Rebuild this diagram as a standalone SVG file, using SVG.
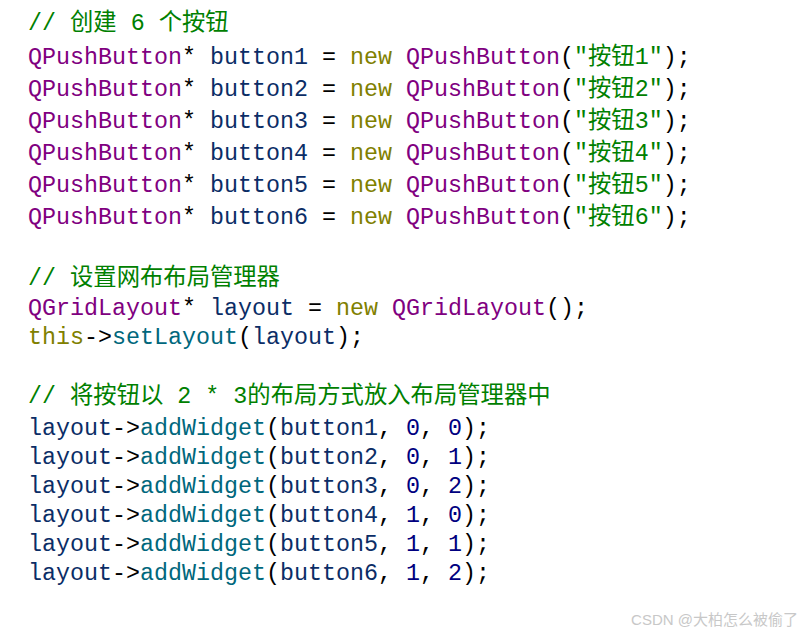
<svg xmlns="http://www.w3.org/2000/svg" width="810" height="636" viewBox="0 0 810 636">
<style>
text{font-family:"Liberation Mono","Noto Sans CJK SC",monospace;font-size:23.33px;white-space:pre;fill:#000}
.c{fill:#008000}
.t{fill:#800080}
.v{fill:#0b2d66}
.k{fill:#808000}
.s{fill:#008000}
.f{fill:#00677c}
.n{fill:#000080}
.wm{font-family:"Liberation Sans","Noto Sans CJK SC",sans-serif;font-size:15px;fill:#c8c8c8}
</style>
<rect width="810" height="636" fill="#ffffff"/>
<text x="28" y="30" class="c">// 创建 6 个按钮</text>
<text x="28" y="64"><tspan class="t">QPushButton</tspan>* <tspan class="v">button1</tspan> = <tspan class="k">new</tspan> <tspan class="t">QPushButton</tspan>(<tspan class="s">"按钮1"</tspan>);</text>
<text x="28" y="96"><tspan class="t">QPushButton</tspan>* <tspan class="v">button2</tspan> = <tspan class="k">new</tspan> <tspan class="t">QPushButton</tspan>(<tspan class="s">"按钮2"</tspan>);</text>
<text x="28" y="128"><tspan class="t">QPushButton</tspan>* <tspan class="v">button3</tspan> = <tspan class="k">new</tspan> <tspan class="t">QPushButton</tspan>(<tspan class="s">"按钮3"</tspan>);</text>
<text x="28" y="160"><tspan class="t">QPushButton</tspan>* <tspan class="v">button4</tspan> = <tspan class="k">new</tspan> <tspan class="t">QPushButton</tspan>(<tspan class="s">"按钮4"</tspan>);</text>
<text x="28" y="192"><tspan class="t">QPushButton</tspan>* <tspan class="v">button5</tspan> = <tspan class="k">new</tspan> <tspan class="t">QPushButton</tspan>(<tspan class="s">"按钮5"</tspan>);</text>
<text x="28" y="224"><tspan class="t">QPushButton</tspan>* <tspan class="v">button6</tspan> = <tspan class="k">new</tspan> <tspan class="t">QPushButton</tspan>(<tspan class="s">"按钮6"</tspan>);</text>
<text x="28" y="285" class="c">// 设置网布布局管理器</text>
<text x="28" y="315"><tspan class="t">QGridLayout</tspan>* <tspan class="v">layout</tspan> = <tspan class="k">new</tspan> <tspan class="t">QGridLayout</tspan>();</text>
<text x="28" y="344"><tspan class="k">this</tspan>-&gt;<tspan class="f">setLayout</tspan>(<tspan class="v">layout</tspan>);</text>
<text x="28" y="403" class="c">// 将按钮以 2 * 3的布局方式放入布局管理器中</text>
<text x="28" y="435"><tspan class="v">layout</tspan>-&gt;<tspan class="f">addWidget</tspan>(<tspan class="v">button1</tspan>, <tspan class="n">0</tspan>, <tspan class="n">0</tspan>);</text>
<text x="28" y="464"><tspan class="v">layout</tspan>-&gt;<tspan class="f">addWidget</tspan>(<tspan class="v">button2</tspan>, <tspan class="n">0</tspan>, <tspan class="n">1</tspan>);</text>
<text x="28" y="493"><tspan class="v">layout</tspan>-&gt;<tspan class="f">addWidget</tspan>(<tspan class="v">button3</tspan>, <tspan class="n">0</tspan>, <tspan class="n">2</tspan>);</text>
<text x="28" y="522"><tspan class="v">layout</tspan>-&gt;<tspan class="f">addWidget</tspan>(<tspan class="v">button4</tspan>, <tspan class="n">1</tspan>, <tspan class="n">0</tspan>);</text>
<text x="28" y="551"><tspan class="v">layout</tspan>-&gt;<tspan class="f">addWidget</tspan>(<tspan class="v">button5</tspan>, <tspan class="n">1</tspan>, <tspan class="n">1</tspan>);</text>
<text x="28" y="580"><tspan class="v">layout</tspan>-&gt;<tspan class="f">addWidget</tspan>(<tspan class="v">button6</tspan>, <tspan class="n">1</tspan>, <tspan class="n">2</tspan>);</text>
<text x="798" y="625" text-anchor="end" class="wm">CSDN @大柏怎么被偷了</text>
</svg>
